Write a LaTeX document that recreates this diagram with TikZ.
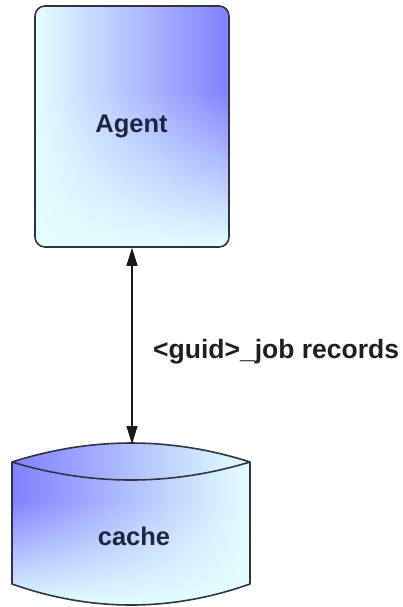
\documentclass[tikz,border=0pt]{standalone}
\usepackage{fontspec}
\setmainfont{Liberation Sans}
\usetikzlibrary{arrows.meta,fadings}
\definecolor{dkblue}{HTML}{8080FF}
\definecolor{midblue}{HTML}{B0BAFF}
\definecolor{ltcyan}{HTML}{E4FFFF}
\definecolor{edge}{HTML}{2E3440}
\definecolor{txt}{HTML}{1E2540}
\tikzset{
  x=1pt, y=-1pt,
  lbl/.style={font=\fontsize{25.5}{30}\selectfont\bfseries, text=txt, inner sep=0pt},
  edgeline/.style={draw=edge, line width=1.6pt},
  link/.style={draw=black!90, line width=1.2pt,
    {Triangle[length=18pt,width=11pt]}-{Triangle[length=18pt,width=11pt]}}
}
\def\cylpath{(12,462) .. controls (91.3,436.7) and (170.7,436.7) .. (250,462)
  -- (250,584) .. controls (170.7,612) and (91.3,612) .. (12,584) -- cycle}
\begin{document}
\begin{tikzpicture}
\useasboundingbox (0,0) rectangle (402,607);
% Agent box
\begin{scope}
\clip[rounded corners=10pt] (35,6) rectangle (229,247);
\shade[left color=ltcyan, middle color=midblue, right color=dkblue] (35,6) rectangle (229,247);
\fill[ltcyan, path fading=north] (35,90) rectangle (229,247);
\end{scope}
\node[edgeline, rounded corners=10pt, minimum width=194pt, minimum height=241pt, inner sep=0pt] (agent) at (132,126.5) {};
\node[lbl, anchor=base] (agentlbl) at (131.5,132) {Agent};
% cylinder
\begin{scope}
\clip \cylpath;
\shade[left color=dkblue, middle color=midblue, right color=ltcyan] (12,440) rectangle (250,607);
\fill[ltcyan, path fading=north] (12,500) rectangle (250,607);
\end{scope}
\draw[edgeline, line join=round] \cylpath;
\draw[edgeline]
  (12,462) .. controls (91.3,486) and (170.7,486) .. (250,462);
\coordinate (cyltop) at (132,444);
\node[lbl, anchor=base] (cache) at (134,545) {cache};
% connector
\draw[link] (agent.south -| cyltop) -- (cyltop);
\node[lbl, font=\fontsize{26.5}{30}\selectfont\bfseries, text=black!88, anchor=base west] (rec) at (153,358) {<guid>\_job records};
\end{tikzpicture}
\end{document}
